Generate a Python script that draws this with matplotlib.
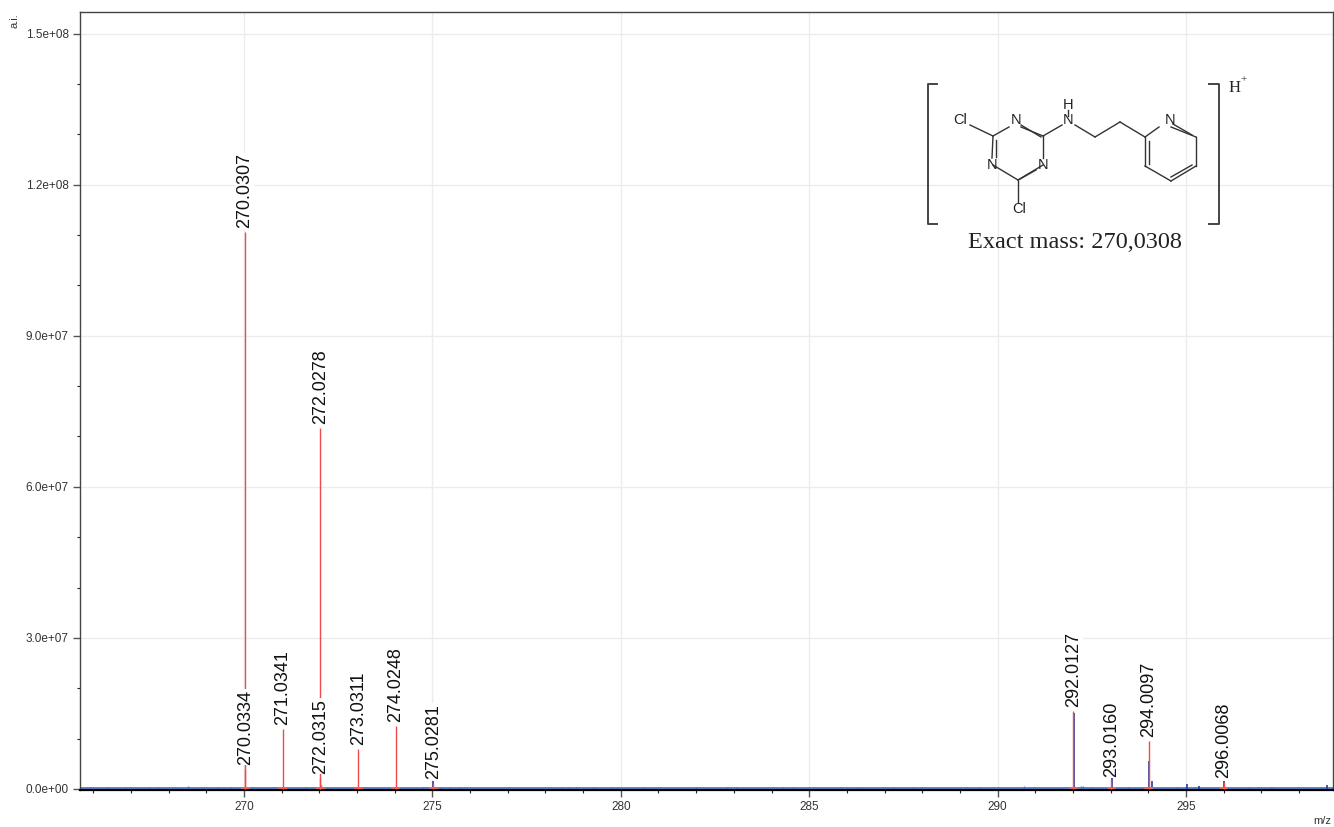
"""
Mass spectrum of the protonated dichlorotriazine compound with structure inset.
"""

import matplotlib
matplotlib.use("Agg")
import matplotlib.pyplot as plt
from matplotlib.ticker import MultipleLocator, FuncFormatter

# --- Data ---
red_mz = [270.0307, 270.0334, 271.0341, 272.0278, 272.0315, 273.0311, 274.0248,
          275.0281, 292.0127, 293.0160, 294.0097, 296.0068]
red_int = [1.105e8, 4.0e6, 1.19e7, 7.16e7, 2.2e6, 7.9e6, 1.25e7,
           1.2e6, 1.55e7, 1.6e6, 9.5e6, 1.4e6]
red_labels = ["270.0307", "270.0334", "271.0341", "272.0278", "272.0315", "273.0311",
              "274.0248", "275.0281", "292.0127", "293.0160", "294.0097", "296.0068"]

blue_mz = [292.02, 293.03, 294.02, 294.10, 296.01, 275.03, 295.02, 295.34, 298.75]
blue_int = [1.5e7, 2.2e6, 5.5e6, 1.5e6, 1.6e6, 1.6e6, 1.0e6, 6e5, 7e5]

noise_mz = [265.91, 266.36, 266.84, 267.49, 267.73, 268.52, 268.95, 269.30, 269.67,
            270.25, 271.66, 272.04, 273.10, 274.76, 274.85, 275.22, 275.47, 275.73,
            278.43, 278.63, 278.80, 279.27, 279.34, 279.73, 279.89, 280.58, 281.99,
            282.83, 283.05, 284.31, 284.56, 286.28, 286.37, 287.22, 287.75, 287.96,
            289.53, 290.70, 292.20, 292.27, 292.48, 293.45, 294.75, 296.11, 296.66,
            296.92, 297.25, 297.30, 298.58]
noise_int = [4e5, 3e5, 4e5, 3e5, 3e5, 5e5, 4e5, 3e5, 3e5,
             4e5, 3e5, 7e5, 4e5, 4e5, 4e5, 4e5, 3e5, 3e5,
             3e5, 3e5, 3e5, 4e5, 4e5, 3e5, 3e5, 3e5, 4e5,
             3e5, 3e5, 3e5, 3e5, 4e5, 4e5, 3e5, 3e5, 3e5,
             3e5, 5e5, 5e5, 5e5, 4e5, 3e5, 3e5, 4e5, 3e5,
             3e5, 3e5, 3e5, 3e5]

# --- Structure inset, in pixels of the figure ---
single_bonds = [
    [(970, 125), (993, 136)], [(993, 136), (1009, 127)], [(1021, 127), (1043, 136)],
    [(1043, 136), (1043, 158)], [(1043, 165), (1018, 180)], [(1018, 180), (993, 165)],
    [(993, 136), (992, 158)], [(1018, 180), (1018, 202)], [(1043, 136), (1062, 125)],
    [(1068, 110), (1068, 116)], [(1075, 125), (1095, 137)], [(1095, 137), (1120, 122)],
    [(1120, 122), (1145, 137)], [(1145, 137), (1159, 127)], [(1171, 127), (1196, 137)],
    [(1196, 137), (1196, 166)], [(1196, 166), (1171, 181)], [(1171, 181), (1145, 166)],
    [(1145, 166), (1145, 137)],
]
double_bonds = [
    [(996, 140), (996, 157)], [(1021, 125), (1041, 137)], [(1036, 170), (1020, 179)],
    [(1173, 124), (1192, 135)], [(1192, 165), (1171, 177)], [(1149, 141), (1149, 164)],
]
left_bracket = [(937, 84), (928, 84), (928, 224), (937, 224)]
right_bracket = [(1209, 84), (1219, 84), (1219, 224), (1209, 224)]
atoms = [("Cl", 960, 120), ("N", 1016, 120), ("N", 992, 165), ("N", 1043, 165),
         ("Cl", 1019, 209), ("N", 1068, 120), ("H", 1068, 105), ("N", 1170, 120)]

# --- Figure ---
fig = plt.figure(figsize=(13.34, 8.27), dpi=100)
plt.rcParams["font.family"] = ["Liberation Sans", "DejaVu Sans"]
ax = fig.add_axes([80 / 1334, 1 - 790 / 827, (1333 - 80) / 1334, (790 - 12) / 827])

ax.set_xlim(265.65, 298.9)
ax.set_ylim(-2e5, 1.5427e8)

ax.xaxis.set_major_locator(MultipleLocator(5))
ax.xaxis.set_minor_locator(MultipleLocator(1))
ax.yaxis.set_major_locator(MultipleLocator(3e7))
ax.yaxis.set_minor_locator(MultipleLocator(1e7))
ax.yaxis.set_major_formatter(FuncFormatter(lambda v, pos: f"{v:.1e}"))

ax.grid(True, which="major", color="#ececec", linewidth=1)
ax.set_axisbelow(True)
ax.tick_params(axis="both", which="major", length=5, width=1, color="#555555",
               labelsize=8.5, labelcolor="#333333", pad=3)
ax.tick_params(axis="both", which="minor", length=2.5, width=0.8, color="#222222")
for side in ["top", "left", "right"]:
    ax.spines[side].set_color("#444444")
    ax.spines[side].set_linewidth(1)
ax.spines["bottom"].set_color("black")
ax.spines["bottom"].set_linewidth(1.6)

# Blue profile, baseline and small noise peaks
ax.axhline(2.5e5, color="#3f6fc4", linewidth=1.2, zorder=2)
ax.vlines(noise_mz, 0, noise_int, color="#4a78c8", linewidth=1, zorder=2)
ax.vlines(blue_mz, 0, blue_int, color="#1f3fa8", linewidth=1.2, zorder=3)

# Red centroid peaks, with a small foot on the baseline
ax.vlines(red_mz, 0, red_int, color="#f04a4a", linewidth=1, zorder=4)
ax.hlines([2e5] * len(red_mz), [m - 0.12 for m in red_mz], [m + 0.12 for m in red_mz],
          color="#f06060", linewidth=1.4, zorder=4)

# Peak labels sit on a white box that hides whatever runs behind them
for mz, height, label in zip(red_mz, red_int, red_labels):
    ax.annotate(label, xy=(mz, height), xytext=(0, 3), textcoords="offset points",
                rotation=90, ha="center", va="bottom", fontsize=13, color="#111111",
                bbox=dict(facecolor="white", edgecolor="none", pad=0.5), zorder=5)

# Overlay in pixel coordinates for the structure and axis captions
ov = fig.add_axes([0, 0, 1, 1], facecolor="none")
ov.set_xlim(0, 1334)
ov.set_ylim(827, 0)
ov.axis("off")

for bond in single_bonds + double_bonds:
    ov.plot([bond[0][0], bond[1][0]], [bond[0][1], bond[1][1]], color="#333333", linewidth=1)
for bracket in [left_bracket, right_bracket]:
    ov.plot([p[0] for p in bracket], [p[1] for p in bracket], color="#444444", linewidth=1.4)
for name, x, y in atoms:
    ov.text(x, y, name, ha="center", va="center", fontsize=10.5, color="#222222")

ov.text(1229, 88, "H", ha="left", va="center", fontsize=12, family="Liberation Serif", color="#222222")
ov.text(1240, 80, "+", ha="left", va="center", fontsize=8, family="Liberation Serif", color="#222222")
ov.text(1075, 243, "Exact mass: 270,0308", ha="center", va="center", fontsize=17.5,
        family="Liberation Serif", color="#222222")

ov.text(15, 21, "a.i.", rotation=90, ha="center", va="center", fontsize=8, color="#333333")
ov.text(1322, 821, "m/z", ha="center", va="center", fontsize=8, color="#333333")

fig.savefig("out.png", dpi=100)
plt.close(fig)
